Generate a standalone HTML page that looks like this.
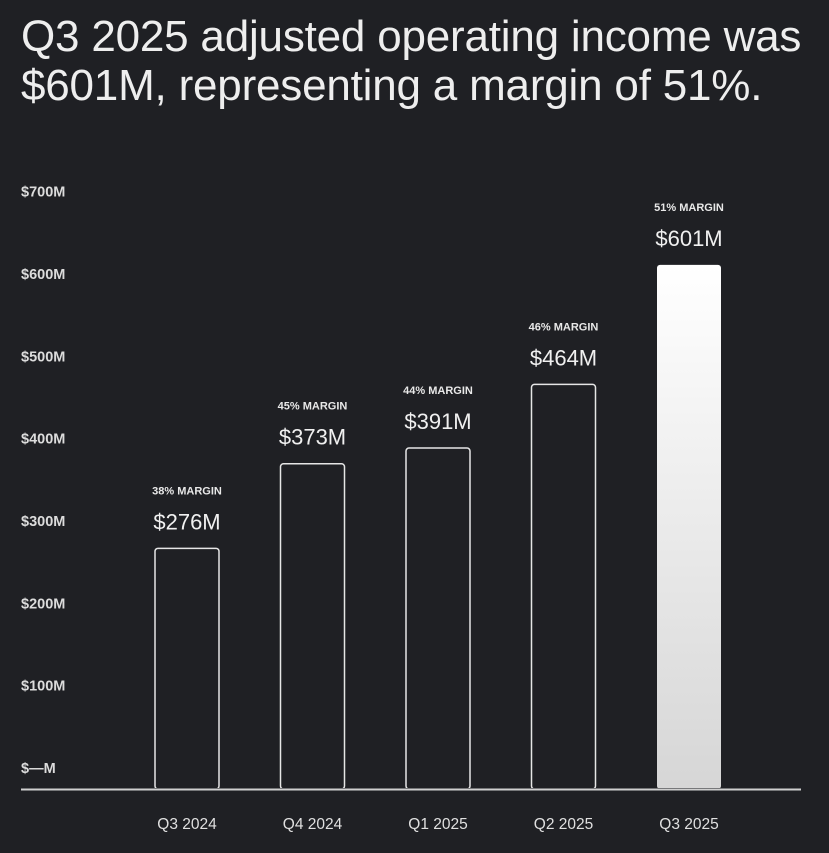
<!DOCTYPE html>
<html><head><meta charset="utf-8"><style>
html,body{margin:0;padding:0;background:#1f2024;}
body{width:829px;height:853px;position:relative;overflow:hidden;font-family:"Liberation Sans",sans-serif;color:#e8e8e8;}
h1{position:absolute;left:21px;top:12px;margin:0;font-weight:400;font-size:44px;line-height:49px;color:#eeeeee;letter-spacing:-0.2px;white-space:nowrap;}
svg{position:absolute;left:0;top:0;}
</style></head><body>
<h1>Q3 2025 adjusted operating income was<br>$601M, representing a margin of 51%.</h1>
<svg id="chart" width="829" height="853">
<defs><linearGradient id="g" x1="0" y1="0" x2="0" y2="1"><stop offset="0" stop-color="#ffffff"/><stop offset="1" stop-color="#d6d6d6"/></linearGradient></defs>
</svg>
<script>
const categories=["Q3 2024","Q4 2024","Q1 2025","Q2 2025","Q3 2025"];
const values=[276,373,391,464,601];
const valueLabels=["$276M","$373M","$391M","$464M","$601M"];
const margins=["38% MARGIN","45% MARGIN","44% MARGIN","46% MARGIN","51% MARGIN"];
const tickValues=[0,100,200,300,400,500,600,700];
const tickLabels=["$—M","$100M","$200M","$300M","$400M","$500M","$600M","$700M"];
const svg=document.getElementById('chart');
const NS="http://www.w3.org/2000/svg";
const base=789,scale=0.872;
const yBar=v=>base-v*scale;
const yTick=v=>768-v*0.8233;
const xCenter=i=>187+i*125.5;
function mk(t,a){const e=document.createElementNS(NS,t);for(const k in a)e.setAttribute(k,a[k]);svg.appendChild(e);return e;}
tickValues.forEach((v,i)=>{
 const t=mk('text',{x:21,y:yTick(v)+5,'font-size':14.5,'font-weight':'bold',fill:'#dcdcdc'});
 t.textContent=tickLabels[i];
 
 
});
values.forEach((v,i)=>{
 const cx=xCenter(i),w=64,last=i===values.length-1;
 const r=mk('rect',{x:cx-w/2,y:yBar(v),width:w,height:v*scale,rx:3,fill:last?'url(#g)':'none',stroke:last?'none':'#e6e6e6','stroke-width':1.5});
 
 
 const vl=mk('text',{x:cx,y:yBar(v)-19,'text-anchor':'middle','font-size':22,fill:'#f0f0f0'});
 vl.textContent=valueLabels[i];
 
 
 const ml=mk('text',{x:cx,y:yBar(v)-54,'text-anchor':'middle','font-size':11,'font-weight':'bold',fill:'#e8e8e8'});
 ml.textContent=margins[i];
 
 
 const xl=mk('text',{x:cx,y:829,'text-anchor':'middle','font-size':15.5,fill:'#e0e0e0'});
 xl.textContent=categories[i];
 
 
});
const cover=mk('rect',{x:21,y:base-1,width:780,height:10,fill:'#1f2024'});


const ax=mk('line',{x1:21,x2:801,y1:base+0.5,y2:base+0.5,stroke:'#cfcfcf','stroke-width':2});


</script>
</body></html>
